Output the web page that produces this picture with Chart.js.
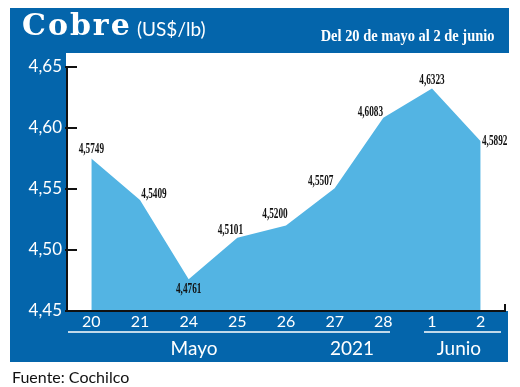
<!DOCTYPE html>
<html>
<head>
<meta charset="utf-8">
<script src="https://cdn.jsdelivr.net/npm/chart.js@4/dist/chart.umd.min.js"></script>
<style>
  body { margin: 0; background: #fff; }
  #wrap { position: relative; width: 520px; height: 387px; overflow: hidden; }
  #wrap canvas { position: absolute; left: 0; top: 0; }
  .txt { position: absolute; line-height: 1; white-space: nowrap; }
  #titulo { left: 22px; top: 7px; font: bold 30px "DejaVu Serif", serif; letter-spacing: 2px; color: #fff; }
  #unidad { left: 137px; top: 17px; font: 19px Lato, sans-serif; color: #fff; }
  #periodo { right: 26px; top: 26px; font: bold 17px "Liberation Serif", serif; color: #fff;
             transform: scaleX(0.85); transform-origin: right center; }
  #fuente { left: 12px; top: 367px; font: 16px Lato, sans-serif; color: #111; }
  .grupo { top: 336px; font: 19px Lato, sans-serif; color: #fff; transform: translateX(-50%); }
</style>
</head>
<body>
<div id="wrap">
  <canvas id="cobreChart" width="520" height="387"></canvas>
  <div class="txt" id="titulo">Cobre</div>
  <div class="txt" id="unidad">(US$/lb)</div>
  <div class="txt" id="periodo">Del 20 de mayo al 2 de junio</div>
  <div class="txt grupo" style="left:194px">Mayo</div>
  <div class="txt grupo" style="left:352px">2021</div>
  <div class="txt grupo" style="left:459px">Junio</div>
  <div class="txt" id="fuente">Fuente: Cochilco</div>
</div>
<script>
// dias del 20 de mayo al 2 de junio
let dias = ["20", "21", "24", "25", "26", "27", "28", "1", "2"];
let precios = [4.5749, 4.5409, 4.4761, 4.5101, 4.5200, 4.5507, 4.6083, 4.6323, 4.5892];
let yTicks = [4.45, 4.50, 4.55, 4.60, 4.65];

// where each value label goes relative to its point
let labelOffsets = [[0, -9], [14, -6], [0, 10], [-7, -7], [-11, -11], [-14, -7], [-13, -5], [0, -8], [14, 0]];

const azul = "#0465ab";
const celeste = "#53b4e3";

function fmt(v, dec) {
    return v.toFixed(dec).replace(".", ",");
}

const fondo = {
    id: "fondo",
    beforeDraw(chart) {
        let ctx = chart.ctx;
        ctx.save();
        ctx.fillStyle = "#fff";
        ctx.fillRect(0, 0, 520, 387);
        ctx.fillStyle = azul;
        ctx.fillRect(10, 8, 499, 45);
        ctx.fillRect(10, 8, 56, 354);
        ctx.fillRect(10, 311, 498, 51);
        ctx.restore();
    }
};

const ejes = {
    id: "ejes",
    afterDatasetsDraw(chart) {
        let ctx = chart.ctx;
        let a = chart.chartArea;
        let y = chart.scales.y;
        ctx.save();
        ctx.strokeStyle = "#111";
        ctx.lineWidth = 2;
        ctx.beginPath();
        ctx.moveTo(a.left, y.getPixelForValue(4.65) - 1);
        ctx.lineTo(a.left, a.bottom);
        ctx.lineTo(a.right, a.bottom);
        ctx.lineTo(a.right, a.bottom - 7);
        yTicks.forEach(t => {
            let py = Math.round(y.getPixelForValue(t));
            ctx.moveTo(a.left - 2, py);
            ctx.lineTo(a.left + 10, py);
        });
        ctx.stroke();

        // value labels
        let meta = chart.getDatasetMeta(0);
        ctx.fillStyle = "#111";
        ctx.font = "bold 14px 'Liberation Serif', serif";
        ctx.textAlign = "center";
        ctx.textBaseline = "middle";
        meta.data.forEach((pt, i) => {
            ctx.save();
            ctx.translate(pt.x + labelOffsets[i][0], pt.y + labelOffsets[i][1]);
            ctx.scale(0.66, 1);
            ctx.fillText(fmt(precios[i], 4), 0, 0);
            ctx.restore();
        });

        // group underlines
        ctx.strokeStyle = "#fff";
        ctx.lineWidth = 1.5;
        ctx.beginPath();
        ctx.moveTo(68, 332);
        ctx.lineTo(390, 332);
        ctx.moveTo(424, 332);
        ctx.lineTo(501, 332);
        ctx.stroke();
        ctx.restore();
    }
};

let ctx = document.getElementById("cobreChart").getContext("2d");

let cobreChart = new Chart(ctx, {
    type: "line",
    data: {
        labels: dias,
        datasets: [{
            data: precios,
            backgroundColor: celeste,
            borderWidth: 0,
            pointRadius: 0,
            fill: "start",
            tension: 0
        }]
    },
    options: {
        responsive: false,
        animation: false,
        layout: { padding: { left: 10, right: 15, top: 67, bottom: 25 } },
        plugins: { legend: { display: false }, tooltip: { enabled: false } },
        scales: {
            x: {
                offset: true,
                grid: { display: false, drawTicks: false },
                border: { display: false },
                ticks: { color: "#fff", font: { family: "Lato", size: 16 }, padding: 1, maxRotation: 0 },
                afterFit(s) { s.height = 51; }
            },
            y: {
                min: 4.45,
                max: 4.65,
                grid: { display: false, drawTicks: false },
                border: { display: false },
                afterBuildTicks(s) { s.ticks = yTicks.map(v => ({ value: v })); },
                ticks: {
                    color: "#fff",
                    font: { family: "Lato", size: 17 },
                    padding: 5,
                    callback: v => fmt(v, 2)
                },
                afterFit(s) { s.width = 57; }
            }
        }
    },
    plugins: [fondo, ejes]
});
</script>
</body>
</html>
